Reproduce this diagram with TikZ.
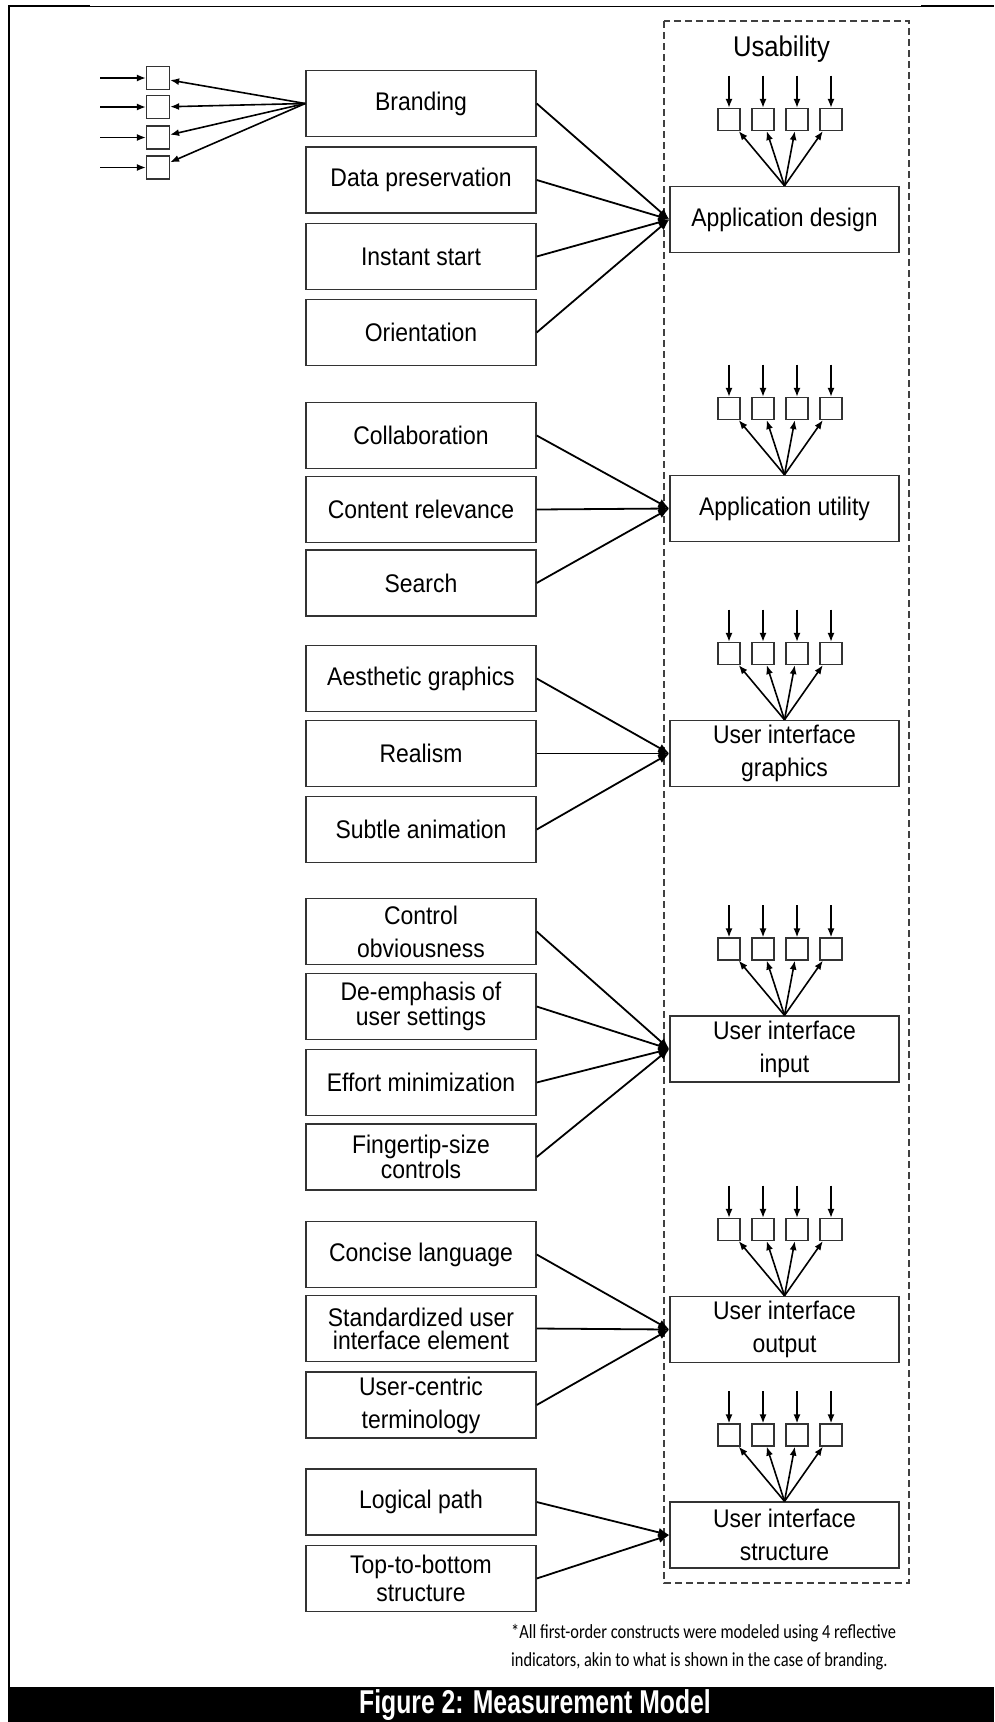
\documentclass[tikz,border=0pt]{standalone}
\usepackage{fontspec}
\setmainfont{Liberation Sans}[FakeStretch=0.9]
\newfontfamily\capfont{Liberation Sans}[FakeStretch=0.75]
\newfontfamily\notefont{Carlito}[FakeStretch=0.82]
\usetikzlibrary{arrows.meta}

\begin{document}
\begin{tikzpicture}[x=1pt,y=-1pt,
  lbox/.style={draw=black!80, line width=1.4pt, minimum width=230pt, minimum height=66pt,
    inner sep=0pt, align=center, font=\fontsize{25.5}{33}\selectfont},
  rbox/.style={lbox, minimum width=229pt},
  tight/.style={font=\fontsize{25.5}{23}\selectfont},
  ind/.style={draw=black!80, line width=1.2pt, minimum size=22pt, inner sep=0pt},
  arr/.style={line width=1.6pt, -{Latex[length=9pt,width=7pt]}},
  link/.style={line width=1.8pt, -{Latex[length=11pt,width=9pt]}}]
\useasboundingbox (0,0) rectangle (994,1722);

% Frame
\draw[line width=2pt] (9,1687) -- (9,6) -- (90,6);
\draw[line width=1pt] (90,6) -- (921,6);
\draw[line width=2pt] (921,6) -- (994,6);

% Second-order construct
\draw[black!75, line width=1.3pt, dash pattern=on 7pt off 4pt] (664,21) rectangle (909,1583);
\node[font=\fontsize{28.5}{30}\selectfont] (usab) at (781.5,49) {Usability};

% First-order constructs
\node[rbox] (appdes) at (784.5,219.5) {Application design};
\node[rbox] (apputil) at (784.5,508.5) {Application utility};
\node[rbox] (uigra) at (784.5,753.5) {User interface\\graphics};
\node[rbox] (uiin) at (784.5,1049) {User interface\\input};
\node[rbox] (uiout) at (784.5,1329.5) {User interface\\output};
\node[rbox] (uistr) at (784.5,1535) {User interface\\structure};

% Indicators of the first-order constructs
\foreach \b/\t in {appdes/219.5, apputil/508.5, uigra/753.5, uiin/1049, uiout/1329.5, uistr/1535} {
  \foreach \x [count=\i] in {729,763,797,831} {
    \node[ind] (\b\i) at (\x,\t-100) {};
    \coordinate (\b-t\i) at (\x,\t-144);
    \draw[arr] (\b-t\i) -- (\b\i);
    \draw[arr] (\b.north) -- (\b\i);
  }
}

% Formative dimensions
\node[lbox] (brand) at (421,103.5) {Branding};
\node[lbox] (datap) at (421,180) {Data preservation};
\node[lbox] (instant) at (421,256.5) {Instant start};
\node[lbox] (orient) at (421,332.5) {Orientation};

\node[lbox] (collab) at (421,435.5) {Collaboration};
\node[lbox] (content) at (421,509.5) {Content relevance};
\node[lbox] (search) at (421,583) {Search};

\node[lbox] (aesth) at (421,678.5) {Aesthetic graphics};
\node[lbox] (realism) at (421,753.5) {Realism};
\node[lbox] (subtle) at (421,829.5) {Subtle animation};

\node[lbox] (control) at (421,931.5) {Control\\obviousness};
\node[lbox, tight] (deemph) at (421,1006.5) {De-emphasis of\\user settings};
\node[lbox] (effort) at (421,1082.5) {Effort minimization};
\node[lbox, tight] (finger) at (421,1157) {Fingertip-size\\controls};

\node[lbox] (concise) at (421,1254.5) {Concise language};
\node[lbox, tight] (stand) at (421,1328.5) {Standardized user\\interface element};
\node[lbox] (ucentric) at (421,1405) {User-centric\\terminology};

\node[lbox] (logical) at (421,1502) {Logical path};
\node[lbox, font=\fontsize{25.5}{28.5}\selectfont] (topbot) at (421,1578.5) {Top-to-bottom\\structure};

% Reflective indicators shown for branding
\foreach \y [count=\i] in {78,107,137.5,167.5} {
  \node[ind, minimum size=23pt] (bi\i) at (158,\y) {};
  \coordinate (bs\i) at (100,\y);
  \draw[arr] (bs\i) -- (bi\i);
  \draw[arr] (brand.west) -- (bi\i);
}

% Links to the first-order constructs
\foreach \s in {brand,datap,instant,orient} \draw[link] (\s.east) -- (appdes.west);
\foreach \s in {collab,content,search} \draw[link] (\s.east) -- (apputil.west);
\foreach \s in {aesth,realism,subtle} \draw[link] (\s.east) -- (uigra.west);
\foreach \s in {control,deemph,effort,finger} \draw[link] (\s.east) -- (uiin.west);
\foreach \s in {concise,stand,ucentric} \draw[link] (\s.east) -- (uiout.west);
\foreach \s in {logical,topbot} \draw[link] (\s.east) -- (uistr.west);

% Note and caption
\node[anchor=north west, align=left, inner sep=0pt,
  font=\notefont\fontsize{20}{28}\selectfont] (note) at (511,1624)
  {*All first-order constructs were modeled using 4 reflective\\indicators, akin to what is shown in the case of branding.};
\fill (8,1687) rectangle (994,1722);
\node[text=white, font=\capfont\bfseries\fontsize{33}{33}\selectfont] (cap) at (535,1705) {Figure 2: Measurement Model};
\end{tikzpicture}
\end{document}
